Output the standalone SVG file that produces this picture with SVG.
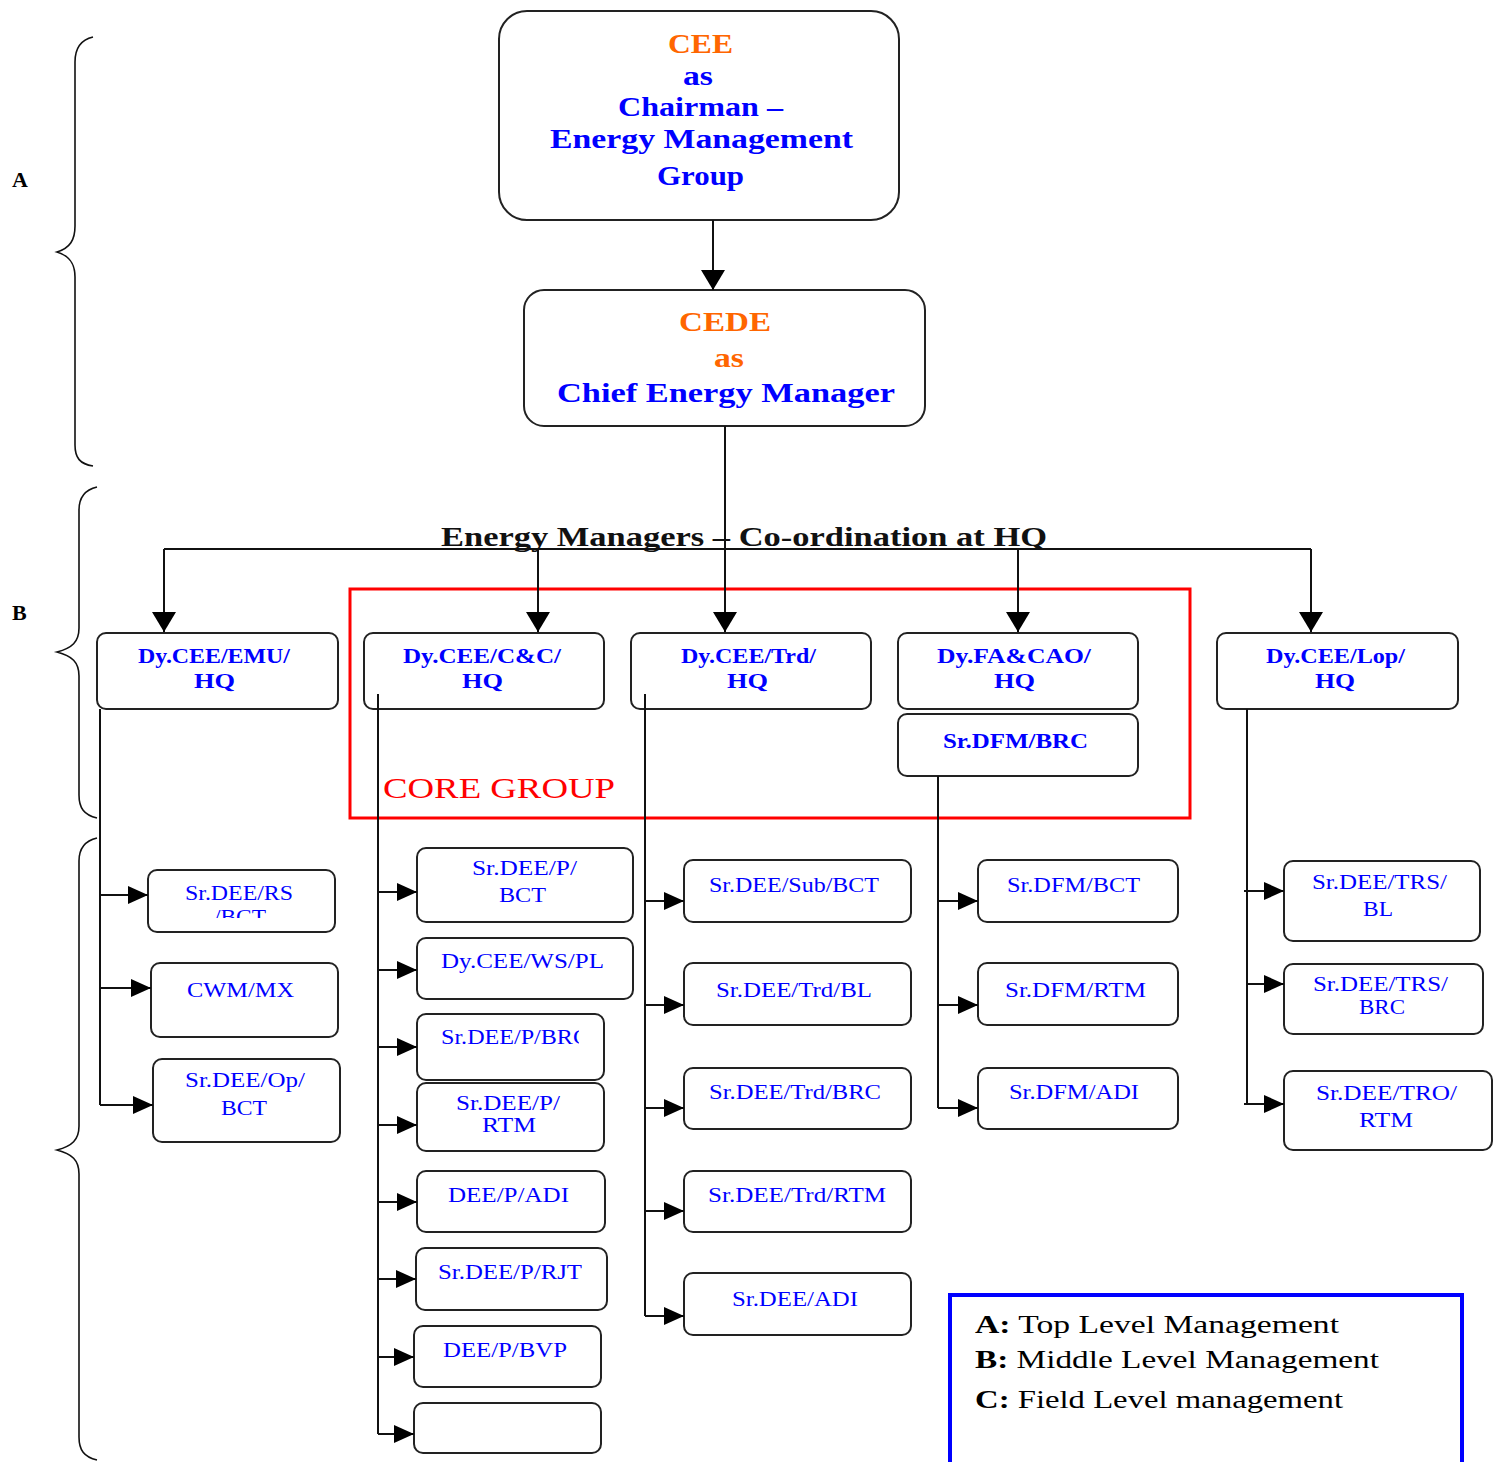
<svg xmlns="http://www.w3.org/2000/svg" width="1498" height="1462" viewBox="0 0 1498 1462">
<style>
.bx{fill:#fff;stroke:#222;stroke-width:2}
.ln{fill:none;stroke:#111;stroke-width:2}
.br{fill:none;stroke:#111;stroke-width:1.6}
.t{font-family:"Liberation Serif","Times New Roman",serif;font-size:20px;fill:#0000ff}
.tb{font-family:"Liberation Serif","Times New Roman",serif;font-size:20px;font-weight:bold;fill:#0000ff}
.tt{font-family:"Liberation Serif","Times New Roman",serif;font-size:28px;font-weight:bold;fill:#0000ff}
.or{fill:#ff6600}
.lbl{font-family:"Liberation Serif","Times New Roman",serif;font-size:22px;font-weight:bold;fill:#000}
.lg{font-family:"Liberation Serif","Times New Roman",serif;font-size:26px;fill:#000}
</style>
<defs>
<marker id="ah" markerUnits="userSpaceOnUse" markerWidth="20" markerHeight="18" refX="20" refY="9" orient="auto"><path d="M0,0 L20,9 L0,18 z" fill="#000"/></marker>
<marker id="av" markerUnits="userSpaceOnUse" markerWidth="20" markerHeight="24" refX="20" refY="12" orient="auto"><path d="M0,0 L20,12 L0,24 z" fill="#000"/></marker>
<clipPath id="c1"><rect x="148" y="870" width="190" height="48"/></clipPath>
<clipPath id="c2"><rect x="417" y="1014" width="162" height="66"/></clipPath>
</defs>
<rect width="1498" height="1462" fill="#fff"/>

<g id="braces">
<path class="br" d="M93,37 C80,40 75,50 75,62 L75,226 C75,240 70,248 57,252 C70,256 75,264 75,277 L75,445 C75,458 80,464 93,466"/>
<path class="br" d="M97,487 C84,490 79,498 79,510 L79,628 C79,642 72,648 57,652 C72,656 79,662 79,676 L79,795 C79,808 84,815 97,818"/>
<path class="br" d="M97,838 C84,841 79,849 79,861 L79,1126 C79,1140 72,1146 57,1150 C72,1154 79,1160 79,1174 L79,1437 C79,1450 84,1457 97,1460"/>
<text class="lbl" x="12" y="187">A</text>
<text class="lbl" x="12" y="620">B</text>
</g>

<text x="441" y="546" textLength="606" lengthAdjust="spacingAndGlyphs" style="font-family:'Liberation Serif','Times New Roman',serif;font-size:28px;font-weight:bold;fill:#111">Energy Managers – Co-ordination at HQ</text>

<g id="n-cee">
<rect class="bx" x="499" y="11" width="400" height="209" rx="28"/>
<text class="tt or" x="668" y="53" textLength="65" lengthAdjust="spacingAndGlyphs">CEE</text>
<text class="tt" x="683" y="85" textLength="30" lengthAdjust="spacingAndGlyphs">as</text>
<text class="tt" x="618" y="116" textLength="165" lengthAdjust="spacingAndGlyphs">Chairman –</text>
<text class="tt" x="550" y="148" textLength="303" lengthAdjust="spacingAndGlyphs">Energy Management</text>
<text class="tt" x="657" y="185" textLength="87" lengthAdjust="spacingAndGlyphs">Group</text>
</g>

<g id="n-cede">
<rect class="bx" x="524" y="290" width="401" height="136" rx="20"/>
<text class="tt or" x="679" y="331" textLength="92" lengthAdjust="spacingAndGlyphs">CEDE</text>
<text class="tt or" x="714" y="367" textLength="30" lengthAdjust="spacingAndGlyphs">as</text>
<text class="tt" x="557" y="402" textLength="338" lengthAdjust="spacingAndGlyphs">Chief Energy Manager</text>
</g>

<g id="core-group">
<rect x="350" y="589" width="840" height="229" fill="none" stroke="#ff0000" stroke-width="3"/>
<text x="383" y="798" textLength="232" lengthAdjust="spacingAndGlyphs" style="font-family:'Liberation Serif','Times New Roman',serif;font-size:30px;fill:#ff0000">CORE GROUP</text>
</g>

<g id="n-emu">
<rect class="bx" x="97" y="633" width="241" height="76" rx="9"/>
<text class="tb" x="138" y="663" textLength="152" lengthAdjust="spacingAndGlyphs">Dy.CEE/EMU/</text>
<text class="tb" x="194" y="688" textLength="41" lengthAdjust="spacingAndGlyphs">HQ</text>
</g>
<g id="n-cc">
<rect class="bx" x="364" y="633" width="240" height="76" rx="9"/>
<text class="tb" x="403" y="663" textLength="158" lengthAdjust="spacingAndGlyphs">Dy.CEE/C&amp;C/</text>
<text class="tb" x="462" y="688" textLength="41" lengthAdjust="spacingAndGlyphs">HQ</text>
</g>
<g id="n-trd">
<rect class="bx" x="631" y="633" width="240" height="76" rx="9"/>
<text class="tb" x="681" y="663" textLength="135" lengthAdjust="spacingAndGlyphs">Dy.CEE/Trd/</text>
<text class="tb" x="727" y="688" textLength="41" lengthAdjust="spacingAndGlyphs">HQ</text>
</g>
<g id="n-fa">
<rect class="bx" x="898" y="633" width="240" height="76" rx="9"/>
<text class="tb" x="937" y="663" textLength="154" lengthAdjust="spacingAndGlyphs">Dy.FA&amp;CAO/</text>
<text class="tb" x="994" y="688" textLength="41" lengthAdjust="spacingAndGlyphs">HQ</text>
</g>
<g id="n-dfmbrc">
<rect class="bx" x="898" y="714" width="240" height="62" rx="9"/>
<text class="tb" x="943" y="748" textLength="145" lengthAdjust="spacingAndGlyphs">Sr.DFM/BRC</text>
</g>
<g id="n-lop">
<rect class="bx" x="1217" y="633" width="241" height="76" rx="9"/>
<text class="tb" x="1266" y="663" textLength="139" lengthAdjust="spacingAndGlyphs">Dy.CEE/Lop/</text>
<text class="tb" x="1315" y="688" textLength="40" lengthAdjust="spacingAndGlyphs">HQ</text>
</g>

<!-- EMU children -->
<g id="n-rs">
<rect class="bx" x="148" y="870" width="187" height="62" rx="9"/>
<text class="t" x="185" y="900" textLength="108" lengthAdjust="spacingAndGlyphs">Sr.DEE/RS</text>
<text class="t" x="214" y="924" textLength="52" lengthAdjust="spacingAndGlyphs" clip-path="url(#c1)">/BCT</text>
</g>
<g id="n-cwm">
<rect class="bx" x="151" y="963" width="187" height="74" rx="9"/>
<text class="t" x="187" y="997" textLength="107" lengthAdjust="spacingAndGlyphs">CWM/MX</text>
</g>
<g id="n-op">
<rect class="bx" x="153" y="1059" width="187" height="83" rx="9"/>
<text class="t" x="185" y="1087" textLength="120" lengthAdjust="spacingAndGlyphs">Sr.DEE/Op/</text>
<text class="t" x="221" y="1115" textLength="46" lengthAdjust="spacingAndGlyphs">BCT</text>
</g>

<!-- C&C children -->
<g id="n-pbct">
<rect class="bx" x="417" y="848" width="216" height="74" rx="9"/>
<text class="t" x="472" y="875" textLength="105" lengthAdjust="spacingAndGlyphs">Sr.DEE/P/</text>
<text class="t" x="499" y="902" textLength="47" lengthAdjust="spacingAndGlyphs">BCT</text>
</g>
<g id="n-ws">
<rect class="bx" x="417" y="938" width="216" height="61" rx="9"/>
<text class="t" x="441" y="968" textLength="163" lengthAdjust="spacingAndGlyphs">Dy.CEE/WS/PL</text>
</g>
<g id="n-pbrc">
<rect class="bx" x="417" y="1014" width="187" height="66" rx="9"/>
<text class="t" x="441" y="1044" textLength="148" lengthAdjust="spacingAndGlyphs" clip-path="url(#c2)">Sr.DEE/P/BRC</text>
</g>
<g id="n-prtm">
<rect class="bx" x="417" y="1083" width="187" height="68" rx="9"/>
<text class="t" x="456" y="1110" textLength="104" lengthAdjust="spacingAndGlyphs">Sr.DEE/P/</text>
<text class="t" x="482" y="1132" textLength="54" lengthAdjust="spacingAndGlyphs">RTM</text>
</g>
<g id="n-padi">
<rect class="bx" x="417" y="1171" width="188" height="61" rx="9"/>
<text class="t" x="448" y="1202" textLength="121" lengthAdjust="spacingAndGlyphs">DEE/P/ADI</text>
</g>
<g id="n-prjt">
<rect class="bx" x="416" y="1248" width="191" height="62" rx="9"/>
<text class="t" x="438" y="1279" textLength="144" lengthAdjust="spacingAndGlyphs">Sr.DEE/P/RJT</text>
</g>
<g id="n-pbvp">
<rect class="bx" x="414" y="1326" width="187" height="61" rx="9"/>
<text class="t" x="443" y="1357" textLength="124" lengthAdjust="spacingAndGlyphs">DEE/P/BVP</text>
</g>
<g id="n-empty">
<rect class="bx" x="414" y="1403" width="187" height="50" rx="9"/>
</g>

<!-- Trd children -->
<g id="n-sub">
<rect class="bx" x="684" y="860" width="227" height="62" rx="9"/>
<text class="t" x="709" y="892" textLength="170" lengthAdjust="spacingAndGlyphs">Sr.DEE/Sub/BCT</text>
</g>
<g id="n-trdbl">
<rect class="bx" x="684" y="963" width="227" height="62" rx="9"/>
<text class="t" x="716" y="997" textLength="156" lengthAdjust="spacingAndGlyphs">Sr.DEE/Trd/BL</text>
</g>
<g id="n-trdbrc">
<rect class="bx" x="684" y="1068" width="227" height="61" rx="9"/>
<text class="t" x="709" y="1099" textLength="172" lengthAdjust="spacingAndGlyphs">Sr.DEE/Trd/BRC</text>
</g>
<g id="n-trdrtm">
<rect class="bx" x="684" y="1171" width="227" height="61" rx="9"/>
<text class="t" x="708" y="1202" textLength="178" lengthAdjust="spacingAndGlyphs">Sr.DEE/Trd/RTM</text>
</g>
<g id="n-adi">
<rect class="bx" x="684" y="1273" width="227" height="62" rx="9"/>
<text class="t" x="732" y="1306" textLength="126" lengthAdjust="spacingAndGlyphs">Sr.DEE/ADI</text>
</g>

<!-- DFM children -->
<g id="n-dfmbct">
<rect class="bx" x="978" y="860" width="200" height="62" rx="9"/>
<text class="t" x="1007" y="892" textLength="133" lengthAdjust="spacingAndGlyphs">Sr.DFM/BCT</text>
</g>
<g id="n-dfmrtm">
<rect class="bx" x="978" y="963" width="200" height="62" rx="9"/>
<text class="t" x="1005" y="997" textLength="141" lengthAdjust="spacingAndGlyphs">Sr.DFM/RTM</text>
</g>
<g id="n-dfmadi">
<rect class="bx" x="978" y="1068" width="200" height="61" rx="9"/>
<text class="t" x="1009" y="1099" textLength="130" lengthAdjust="spacingAndGlyphs">Sr.DFM/ADI</text>
</g>

<!-- Lop children -->
<g id="n-trsbl">
<rect class="bx" x="1284" y="861" width="196" height="80" rx="9"/>
<text class="t" x="1312" y="889" textLength="135" lengthAdjust="spacingAndGlyphs">Sr.DEE/TRS/</text>
<text class="t" x="1363" y="916" textLength="30" lengthAdjust="spacingAndGlyphs">BL</text>
</g>
<g id="n-trsbrc">
<rect class="bx" x="1284" y="964" width="199" height="70" rx="9"/>
<text class="t" x="1313" y="991" textLength="135" lengthAdjust="spacingAndGlyphs">Sr.DEE/TRS/</text>
<text class="t" x="1359" y="1014" textLength="46" lengthAdjust="spacingAndGlyphs">BRC</text>
</g>
<g id="n-trortm">
<rect class="bx" x="1284" y="1071" width="208" height="79" rx="9"/>
<text class="t" x="1316" y="1100" textLength="141" lengthAdjust="spacingAndGlyphs">Sr.DEE/TRO/</text>
<text class="t" x="1359" y="1127" textLength="54" lengthAdjust="spacingAndGlyphs">RTM</text>
</g>

<g id="connectors">
<path class="ln" d="M713,220 V290" marker-end="url(#av)"/>
<path class="ln" d="M725,426 V632" marker-end="url(#av)"/>
<path class="ln" d="M164,549 H1311"/>
<path class="ln" d="M164,549 V632" marker-end="url(#av)"/>
<path class="ln" d="M538,549 V632" marker-end="url(#av)"/>
<path class="ln" d="M1018,549 V632" marker-end="url(#av)"/>
<path class="ln" d="M1311,549 V632" marker-end="url(#av)"/>
<!-- EMU -->
<path class="ln" d="M100,709 V1105"/>
<path class="ln" d="M100,895 H148" marker-end="url(#ah)"/>
<path class="ln" d="M100,988 H151" marker-end="url(#ah)"/>
<path class="ln" d="M100,1105 H153" marker-end="url(#ah)"/>
<!-- C&C -->
<path class="ln" d="M378,694 V1434"/>
<path class="ln" d="M378,892 H417" marker-end="url(#ah)"/>
<path class="ln" d="M378,970 H417" marker-end="url(#ah)"/>
<path class="ln" d="M378,1047 H417" marker-end="url(#ah)"/>
<path class="ln" d="M378,1125 H417" marker-end="url(#ah)"/>
<path class="ln" d="M378,1202 H417" marker-end="url(#ah)"/>
<path class="ln" d="M378,1279 H416" marker-end="url(#ah)"/>
<path class="ln" d="M378,1357 H414" marker-end="url(#ah)"/>
<path class="ln" d="M378,1434 H414" marker-end="url(#ah)"/>
<!-- Trd -->
<path class="ln" d="M645,694 V1316"/>
<path class="ln" d="M645,901 H684" marker-end="url(#ah)"/>
<path class="ln" d="M645,1005 H684" marker-end="url(#ah)"/>
<path class="ln" d="M645,1108 H684" marker-end="url(#ah)"/>
<path class="ln" d="M645,1211 H684" marker-end="url(#ah)"/>
<path class="ln" d="M645,1316 H684" marker-end="url(#ah)"/>
<!-- DFM -->
<path class="ln" d="M938,776 V1108"/>
<path class="ln" d="M938,901 H978" marker-end="url(#ah)"/>
<path class="ln" d="M938,1005 H978" marker-end="url(#ah)"/>
<path class="ln" d="M938,1108 H978" marker-end="url(#ah)"/>
<!-- Lop -->
<path class="ln" d="M1247,709 V1104"/>
<path class="ln" d="M1244,891 H1284" marker-end="url(#ah)"/>
<path class="ln" d="M1247,984 H1284" marker-end="url(#ah)"/>
<path class="ln" d="M1244,1104 H1284" marker-end="url(#ah)"/>
</g>

<g id="legend">
<rect x="950" y="1295" width="512" height="200" fill="none" stroke="#0000ff" stroke-width="4"/>
<text class="lg" x="975" y="1333" textLength="364" lengthAdjust="spacingAndGlyphs"><tspan font-weight="bold">A:</tspan> Top Level Management</text>
<text class="lg" x="975" y="1368" textLength="404" lengthAdjust="spacingAndGlyphs"><tspan font-weight="bold">B:</tspan> Middle Level Management</text>
<text class="lg" x="975" y="1408" textLength="368" lengthAdjust="spacingAndGlyphs"><tspan font-weight="bold">C:</tspan> Field Level management</text>
</g>
</svg>
